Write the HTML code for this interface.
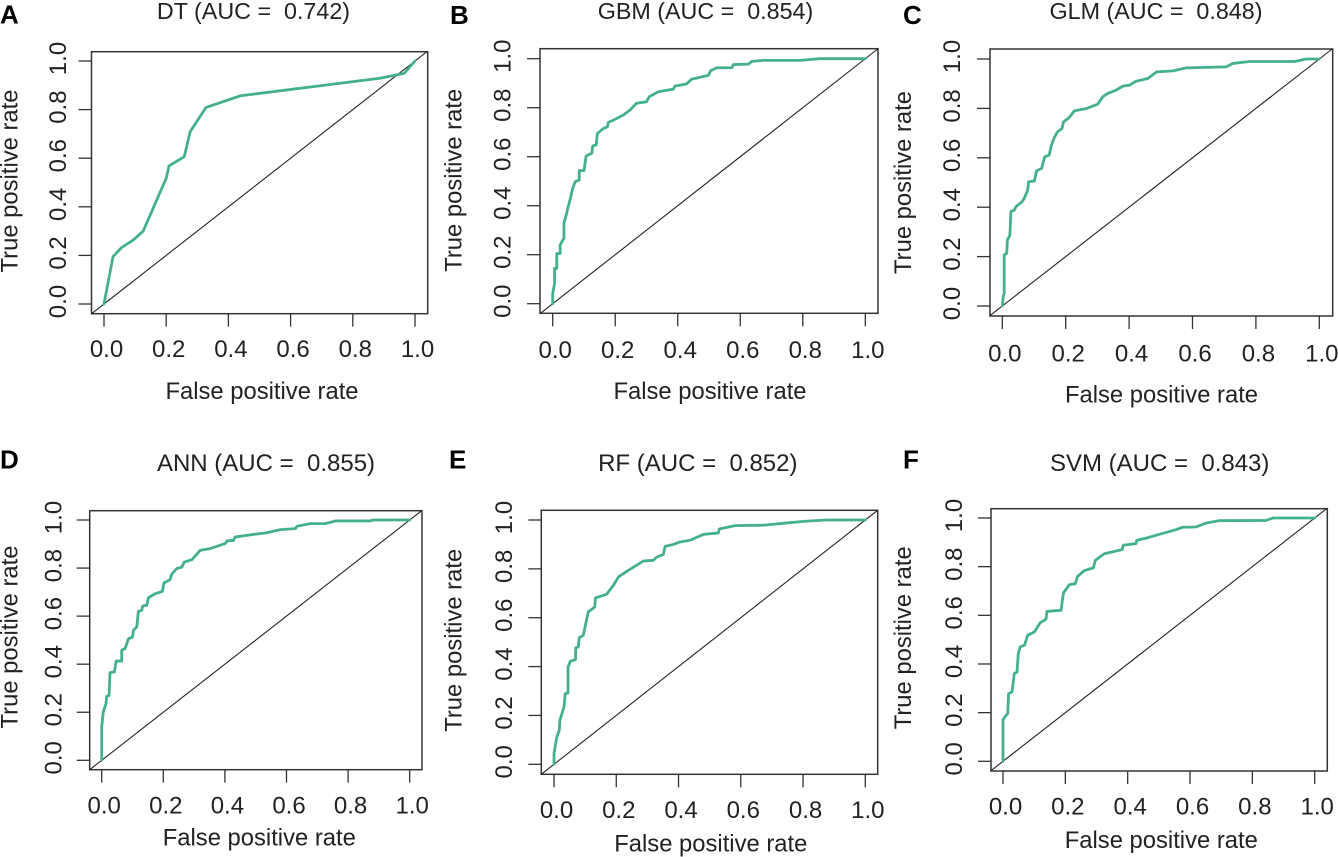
<!DOCTYPE html>
<html lang="en">
<head>
<meta charset="utf-8">
<title>ROC curves for six models</title>
<style>
html,body{margin:0;padding:0;background:#fff;width:1338px;height:857px;overflow:hidden}
svg{display:block}
text{font-family:"Liberation Sans",Arial,sans-serif;fill:#222;white-space:pre}
.title{font-size:23.3px;text-anchor:middle}
.title.lower{font-size:24px}
.axis-title{font-size:23.8px;text-anchor:middle}
.tick-label{font-size:24px;text-anchor:middle}
.letter{font-size:26px;font-weight:bold;fill:#000}
</style>
</head>
<body>
<svg id="chart" width="1338" height="857" viewBox="0 0 1338 857" xmlns="http://www.w3.org/2000/svg">
  <rect x="0" y="0" width="1338" height="857" fill="#fff"/>

  <g id="panel-dt">
    <text class="letter" x="0" y="23.5">A</text>
    <text class="title" x="253.5" y="19">DT (AUC =  0.742)</text>
    <text class="axis-title" x="262" y="399">False positive rate</text>
    <text class="axis-title" transform="translate(17.5 181) rotate(-90)">True positive rate</text>
  </g>
  <g id="panel-gbm">
    <text class="letter" x="450" y="24">B</text>
    <text class="title" x="705.5" y="19">GBM (AUC =  0.854)</text>
    <text class="axis-title" x="710" y="399">False positive rate</text>
    <text class="axis-title" transform="translate(461.7 180.3) rotate(-90)">True positive rate</text>
  </g>
  <g id="panel-glm">
    <text class="letter" x="903" y="24">C</text>
    <text class="title" x="1156" y="19">GLM (AUC =  0.848)</text>
    <text class="axis-title" x="1161.5" y="402.3">False positive rate</text>
    <text class="axis-title" transform="translate(911 182.5) rotate(-90)">True positive rate</text>
  </g>
  <g id="panel-ann">
    <text class="letter" x="0" y="468.7">D</text>
    <text class="title lower" x="266" y="471">ANN (AUC =  0.855)</text>
    <text class="axis-title" x="259.3" y="845.7">False positive rate</text>
    <text class="axis-title" transform="translate(17.3 637) rotate(-90)">True positive rate</text>
  </g>
  <g id="panel-rf">
    <text class="letter" x="449" y="468.7">E</text>
    <text class="title lower" x="697.8" y="471">RF (AUC =  0.852)</text>
    <text class="axis-title" x="710.8" y="851.3">False positive rate</text>
    <text class="axis-title" transform="translate(461.7 640.3) rotate(-90)">True positive rate</text>
  </g>
  <g id="panel-svm">
    <text class="letter" x="903" y="468.7">F</text>
    <text class="title lower" x="1159.7" y="471">SVM (AUC =  0.843)</text>
    <text class="axis-title" x="1161.3" y="848">False positive rate</text>
    <text class="axis-title" transform="translate(911 637.8) rotate(-90)">True positive rate</text>
  </g>
</svg>
<script>
var tickValues = [0, 0.2, 0.4, 0.6, 0.8, 1];
var tickLabels = ["0.0", "0.2", "0.4", "0.6", "0.8", "1.0"];

var fprDT = [0,.029,.057,.094,.126,.20,.209,.258,.277,.328,.439,.887,.965,1];
var tprDT = [0,.195,.233,.263,.30,.517,.568,.606,.709,.809,.857,.929,.949,1];

var fprGBM = [0,0,.006,.006,.013,.013,.024,.024,.036,.036,.045,.047,.058,.064,.072,.085,.085,.10,.107,.125,.128,.139,.143,.162,.175,.178,.194,.226,.247,.268,.300,.309,.338,.386,.391,.428,.444,.498,.505,.525,.573,.578,.626,.637,.674,.791,.855,1];
var tprGBM = [0,.042,.083,.144,.144,.205,.205,.24,.268,.329,.370,.383,.437,.471,.498,.505,.543,.543,.603,.614,.644,.648,.695,.715,.722,.740,.749,.770,.790,.818,.824,.845,.865,.876,.888,.897,.916,.932,.951,.963,.963,.976,.978,.989,.993,.993,1,1];

var fprGLM = [0,.003,.006,.006,.014,.016,.024,.027,.038,.043,.062,.069,.08,.083,.101,.108,.124,.134,.148,.155,.164,.174,.188,.193,.211,.227,.264,.301,.317,.332,.359,.380,.401,.422,.459,.487,.538,.580,.706,.727,.780,.922,.959,1];
var tprGLM = [0,.038,.051,.207,.213,.267,.287,.382,.388,.402,.422,.435,.469,.503,.506,.547,.557,.604,.611,.651,.682,.705,.718,.745,.763,.790,.799,.817,.847,.860,.874,.890,.894,.910,.921,.948,.952,.964,.968,.982,.990,.990,1,1];

var fprANN = [0,0,.005,.014,.016,.024,.027,.041,.047,.065,.065,.076,.087,.100,.103,.114,.119,.130,.133,.146,.152,.173,.197,.202,.222,.227,.244,.260,.268,.293,.320,.352,.401,.407,.428,.433,.493,.536,.580,.629,.634,.677,.726,.759,.871,.882,1];
var tprANN = [0,.139,.201,.236,.266,.270,.365,.368,.413,.413,.458,.465,.506,.513,.541,.555,.620,.624,.642,.645,.677,.693,.703,.738,.752,.774,.798,.804,.825,.835,.874,.881,.902,.913,.915,.929,.940,.947,.960,.964,.974,.985,.985,.996,.996,1,1];

var fprRF = [0,0,.009,.017,.019,.032,.036,.045,.045,.053,.069,.070,.078,.081,.094,.101,.110,.131,.133,.169,.191,.207,.239,.287,.319,.330,.351,.357,.383,.405,.437,.480,.528,.531,.582,.678,.748,.807,.876,1];
var tprRF = [0,.044,.112,.139,.180,.235,.289,.292,.398,.423,.428,.477,.480,.518,.528,.569,.624,.644,.681,.696,.733,.767,.794,.832,.835,.848,.859,.892,.900,.910,.917,.941,.947,.963,.977,.979,.988,.995,1,1];

var fprSVM = [0,0,.010,.015,.018,.029,.036,.045,.049,.055,.069,.079,.101,.119,.138,.141,.186,.194,.213,.232,.239,.261,.290,.296,.325,.382,.386,.427,.429,.464,.502,.555,.576,.619,.651,.694,.844,.866,1];
var tprSVM = [0,.171,.189,.196,.278,.285,.360,.367,.442,.470,.477,.518,.532,.569,.584,.616,.621,.692,.726,.730,.760,.784,.795,.826,.853,.870,.888,.895,.908,.919,.933,.952,.962,.963,.979,.989,.990,1,1];

var panels = [
  {id:"panel-dt",  key:"dt",  fpr:fprDT,  tpr:tprDT,  box:[91.5,427.7,51.7,313.7], xr:[104,415],     yr:[304,61],     xTickY:357,   yTickX:66},
  {id:"panel-gbm", key:"gbm", fpr:fprGBM, tpr:tprGBM, box:[540,878,48.7,313.3],    xr:[552.7,865.3], yr:[303.7,58.7], xTickY:358,   yTickX:510.7},
  {id:"panel-glm", key:"glm", fpr:fprGLM, tpr:tprGLM, box:[990,1332.7,49,316],     xr:[1002.3,1319.3],yr:[306,59],    xTickY:361.7, yTickX:960},
  {id:"panel-ann", key:"ann", fpr:fprANN, tpr:tprANN, box:[89.7,422,510.7,769.7],  xr:[101.7,409.7], yr:[760.3,520],  xTickY:813.7, yTickX:61.3},
  {id:"panel-rf",  key:"rf",  fpr:fprRF,  tpr:tprRF,  box:[541.3,877.7,510.3,774.3],xr:[554,865.3],  yr:[764.3,520],  xTickY:818,   yTickX:512},
  {id:"panel-svm", key:"svm", fpr:fprSVM, tpr:tprSVM, box:[991,1327.3,508.7,771],  xr:[1003,1314.7], yr:[761.3,518],  xTickY:814.7, yTickX:962}
];

var NS = "http://www.w3.org/2000/svg";
function mk(tag, attrs, parent){
  var el = document.createElementNS(NS, tag);
  for (var k in attrs) el.setAttribute(k, attrs[k]);
  parent.appendChild(el);
  return el;
}
function scale(range){
  return function(v){ return range[0] + v * (range[1] - range[0]); };
}

panels.forEach(function(p){
  var g = document.getElementById(p.id);
  var sx = scale(p.xr), sy = scale(p.yr);
  var L = p.box[0], R = p.box[1], T = p.box[2], B = p.box[3];

  var frame = mk("rect", {x:L, y:T, width:R-L, height:B-T, fill:"none", stroke:"#333", "stroke-width":1.5}, g);
  
  

  // diagonal y = x, clipped to the plot box
  var vLo = Math.max((L - p.xr[0]) / (p.xr[1] - p.xr[0]), (B - p.yr[0]) / (p.yr[1] - p.yr[0]));
  var vHi = Math.min((R - p.xr[0]) / (p.xr[1] - p.xr[0]), (T - p.yr[0]) / (p.yr[1] - p.yr[0]));
  var diag = mk("line", {x1:sx(vLo), y1:sy(vLo), x2:sx(vHi), y2:sy(vHi), stroke:"#222", "stroke-width":1.1}, g);
  
  

  tickValues.forEach(function(v, i){
    var xt = mk("line", {x1:sx(v), y1:B, x2:sx(v), y2:B+13, stroke:"#333", "stroke-width":1.3}, g);
    
    

    var yt = mk("line", {x1:L, y1:sy(v), x2:L-13, y2:sy(v), stroke:"#333", "stroke-width":1.3}, g);
    
    

    var xl = mk("text", {"class":"tick-label", x:sx(v)+2.5, y:p.xTickY}, g);
    xl.textContent = tickLabels[i];
    
    

    var yl = mk("text", {"class":"tick-label", transform:"translate(" + p.yTickX + " " + (sy(v)-2.5) + ") rotate(-90)"}, g);
    yl.textContent = tickLabels[i];
    
    
  });

  var pts = p.fpr.map(function(f, i){
    return sx(f).toFixed(2) + "," + sy(p.tpr[i]).toFixed(2);
  }).join(" ");
  var curve = mk("polyline", {points:pts, fill:"none", stroke:"#45b08e", "stroke-width":2.8, "stroke-linejoin":"round", "stroke-linecap":"round"}, g);
  
  
});
</script>
</body>
</html>
